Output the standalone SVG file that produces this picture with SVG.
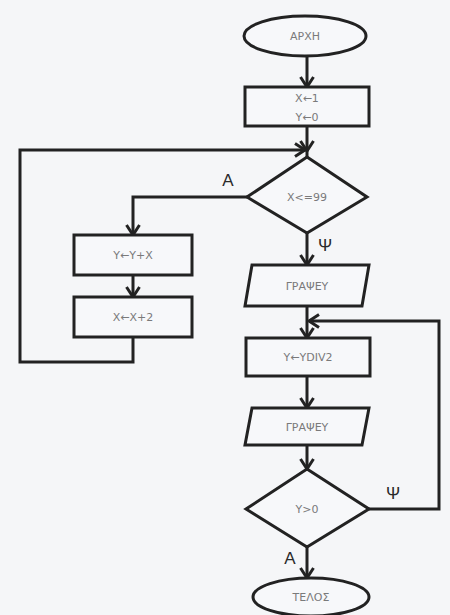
<svg xmlns="http://www.w3.org/2000/svg" width="450" height="615" viewBox="0 0 450 615">
  <defs>
    <marker id="arr" markerUnits="userSpaceOnUse" markerWidth="16" markerHeight="16" refX="12" refY="8" orient="auto">
      <path d="M2,1.5 L12,8 L2,14.5" fill="none" stroke="#222" stroke-width="3" stroke-linejoin="miter"/>
    </marker>
    <style>
      .shape { fill: #f7f8fa; stroke: #222; stroke-width: 3; }
      .conn { fill: none; stroke: #222; stroke-width: 3; }
      .t { font-family: "DejaVu Sans", "Liberation Sans", sans-serif; font-size: 11px; fill: #7a7a7a; text-anchor: middle; }
      .lbl { font-family: "Liberation Sans", "DejaVu Sans", sans-serif; font-size: 17px; fill: #2a2a2a; text-anchor: middle; }
    </style>
  </defs>
  <rect x="0" y="0" width="450" height="615" fill="#f5f6f8"/>

  <g id="connectors">
    <path class="conn" d="M307,57 L307,87" marker-end="url(#arr)"/>
    <path class="conn" d="M307,126 L307,151" marker-end="url(#arr)"/>
    <path class="conn" d="M307,148 L307,157"/>
    <path class="conn" d="M133,337 L133,362 L20,362 L20,150 L305,150" marker-end="url(#arr)"/>
    <path class="conn" d="M247,197 L133,197 L133,235" marker-end="url(#arr)"/>
    <path class="conn" d="M133,275 L133,297" marker-end="url(#arr)"/>
    <path class="conn" d="M307,233 L307,265" marker-end="url(#arr)"/>
    <path class="conn" d="M307,306 L307,338" marker-end="url(#arr)"/>
    <path class="conn" d="M307,376 L307,408" marker-end="url(#arr)"/>
    <path class="conn" d="M307,445 L307,469" marker-end="url(#arr)"/>
    <path class="conn" d="M369,509 L439,509 L439,321 L309,321" marker-end="url(#arr)"/>
    <path class="conn" d="M307,547 L307,578" marker-end="url(#arr)"/>
  </g>

  <g id="start">
    <ellipse class="shape" cx="305" cy="36" rx="61" ry="20"/>
    <text class="t" x="305" y="40">ΑΡΧΗ</text>
  </g>
  <g id="init">
    <rect class="shape" x="245" y="87" width="124" height="39"/>
    <text class="t" x="307" y="102">X←1</text>
    <text class="t" x="307" y="121">Y←0</text>
  </g>
  <g id="cond1">
    <polygon class="shape" points="307,157 367,197 307,233 247,197"/>
    <text class="t" x="307" y="201">X&lt;=99</text>
  </g>
  <g id="sum">
    <rect class="shape" x="74" y="235" width="118" height="40"/>
    <text class="t" x="133" y="259">Y←Y+X</text>
  </g>
  <g id="inc">
    <rect class="shape" x="74" y="297" width="118" height="40"/>
    <text class="t" x="133" y="321">X←X+2</text>
  </g>
  <g id="print1">
    <polygon class="shape" points="252,265 369,265 362,306 245,306"/>
    <text class="t" x="307" y="290">ΓΡΑΨΕΥ</text>
  </g>
  <g id="div">
    <rect class="shape" x="246" y="338" width="124" height="38"/>
    <text class="t" x="308" y="361">Y←YDIV2</text>
  </g>
  <g id="print2">
    <polygon class="shape" points="252,408 369,408 362,445 245,445"/>
    <text class="t" x="307" y="431">ΓΡΑΨΕΥ</text>
  </g>
  <g id="cond2">
    <polygon class="shape" points="307,469 369,509 307,547 246,509"/>
    <text class="t" x="307" y="513">Y&gt;0</text>
  </g>
  <g id="end">
    <ellipse class="shape" cx="311" cy="597" rx="58" ry="19"/>
    <text class="t" x="311" y="601">ΤΕΛΟΣ</text>
  </g>

  <g id="labels">
    <text class="lbl" x="228" y="186">Α</text>
    <text class="lbl" x="325" y="251">Ψ</text>
    <text class="lbl" x="393" y="499">Ψ</text>
    <text class="lbl" x="290" y="564">Α</text>
  </g>
</svg>
